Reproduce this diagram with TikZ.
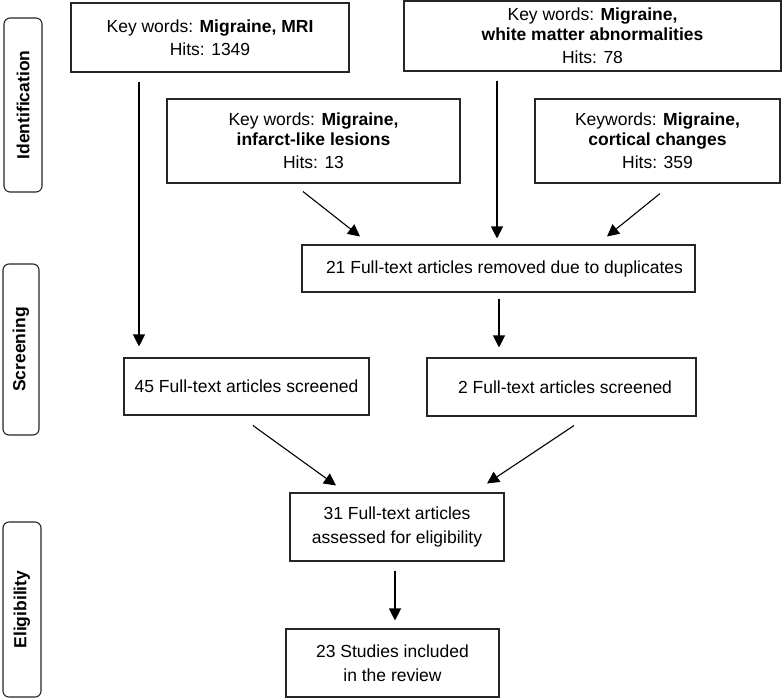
\documentclass[tikz,border=0pt]{standalone}
\usepackage{fontspec}
\setmainfont{Liberation Sans}
\usetikzlibrary{arrows.meta,calc}
\begin{document}
\begin{tikzpicture}[x=1pt,y=-1pt,
  box/.style={draw=black!85, line width=1.1pt, inner sep=0pt, align=center,
    font=\fontsize{17.5}{19.5}\selectfont},
  side/.style={draw=black!85, line width=1.1pt, rounded corners=6pt, inner sep=0pt,
    rotate=90, font=\fontsize{17.5}{19.5}\selectfont\bfseries},
  arr/.style={draw=black, line width=1.1pt, -{Triangle[length=12pt,width=12pt]}}]
\useasboundingbox (0,0) rectangle (783,699);
\fill[white] (0,0) rectangle (783,699);

% side labels
\node[side, minimum width=174pt, minimum height=38pt] (id) at (23,105) {Identification};
\node[side, minimum width=171pt, minimum height=36pt] (sc) at (21,349.5) {Screening};
\node[side, minimum width=175pt, minimum height=38pt] (el) at (22,609.5) {Eligibility};

% boxes
\node[box, minimum width=278pt, minimum height=69pt] (A) at (210,37.5)
  {Key words: \textbf{Migraine, MRI}\\[4pt] Hits: 1349};
\node[box, minimum width=377pt, minimum height=70pt] (B) at (592.5,36)
  {Key words: \textbf{Migraine,}\\ \textbf{white matter abnormalities}\\[4pt] Hits: 78};
\node[box, minimum width=293pt, minimum height=84pt] (C) at (313.5,141)
  {Key words: \textbf{Migraine,}\\ \textbf{infarct-like lesions}\\[4pt] Hits: 13};
\node[box, minimum width=245pt, minimum height=84pt] (D) at (657.5,141)
  {Keywords: \textbf{Migraine,}\\ \textbf{cortical changes}\\[4pt] Hits: 359};
\node[box, minimum width=393pt, minimum height=47pt] (E) at (498.5,268.5)
  {\hspace*{12pt}21 Full-text articles removed due to duplicates};
\node[box, minimum width=245pt, minimum height=57pt] (F) at (246.5,386.5)
  {45 Full-text articles screened};
\node[box, minimum width=269pt, minimum height=58pt] (G) at (561.5,387)
  {\hspace*{7pt}2 Full-text articles screened};
\node[box, minimum width=214pt, minimum height=68pt] (H) at (397,527)
  {31 Full-text articles\\[4pt] assessed for eligibility};
\node[box, minimum width=213pt, minimum height=68pt] (I) at (392.5,663)
  {23 Studies included\\[4pt] in the review};

% connector columns
\coordinate (xa) at (139,0);
\coordinate (xb) at (497,0);

% connectors
\draw[arr] ($(A.south -| xa)+(0,9)$) -- ($(F.north -| xa)+(0,-11)$);
\draw[arr] ($(B.south -| xb)+(0,9)$) -- ($(E.north -| xb)+(0,-6)$);
\draw[arr] ($(C.south)+(-10.5,8)$) -- ($(E.north)+(-138.5,-8)$);
\draw[arr] ($(D.south)+(2.5,10)$) -- ($(E.north)+(108.5,-8)$);
\draw[arr] ($(E.south)+(0.5,6)$) -- ($(G.north)+(-62.5,-10)$);
\draw[arr] ($(F.south)+(6.5,10)$) -- ($(H.north)+(-61,-7)$);
\draw[arr] ($(G.south)+(12.5,9)$) -- ($(H.north)+(90,-9)$);
\draw[arr] ($(H.south)+(-2,9)$) -- ($(I.north)+(2.5,-8)$);
\end{tikzpicture}
\end{document}
